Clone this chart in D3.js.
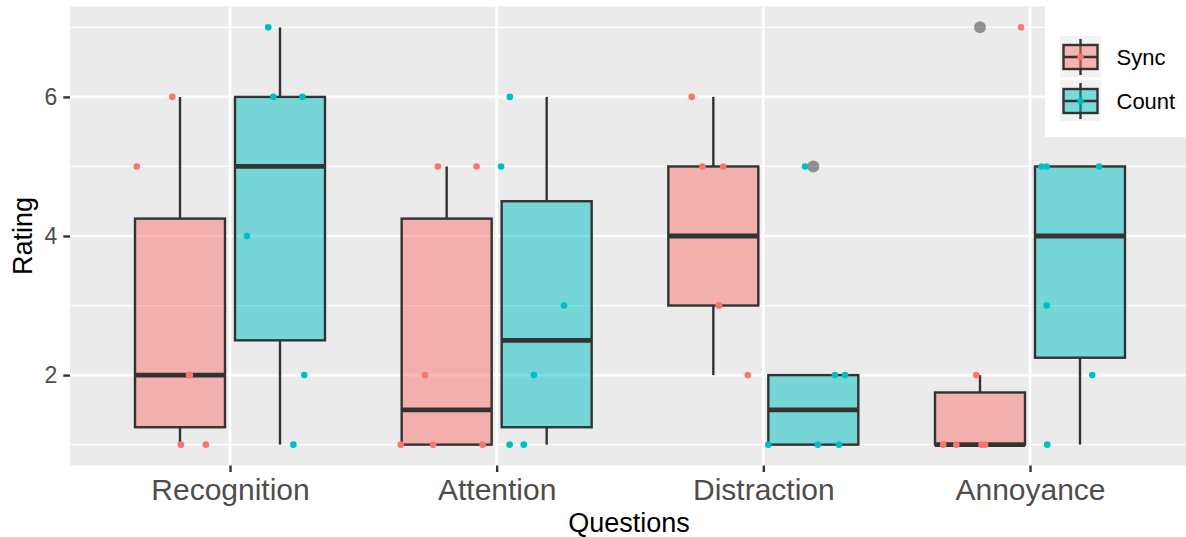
<!DOCTYPE html>
<html>
<head>
<meta charset="utf-8">
<script src="https://cdn.jsdelivr.net/npm/d3@7"></script>
<style>
  body { margin: 0; background: #fff; }
  text { font-family: "Liberation Sans", Arial, sans-serif; }
</style>
</head>
<body>
<div id="chart"></div>
<script>
// data
var questions = ["Recognition", "Attention", "Distraction", "Annoyance"];
var groups = ["Sync", "Count"];
var syncRatings = [[1,1,2,2,5,6], [1,1,1,2,5,5], [2,3,3,5,5,6], [1,1,1,1,2,7]];
var countRatings = [[1,2,4,6,6,7], [1,1,2,3,5,6], [1,1,1,2,2,5], [1,2,3,5,5,5]];
// horizontal jitter of each point, in category units from its box centre
var syncJitter = [[0.003,0.097,0.037,0.034,-0.162,-0.029], [-0.172,-0.051,0.135,-0.081,-0.033,0.112],
                  [0.129,0.021,0.021,-0.041,0.037,-0.081], [-0.138,-0.089,0.006,0.019,-0.014,0.154]];
var countJitter = [[0.05,0.091,-0.124,-0.025,0.084,-0.044], [-0.139,-0.086,-0.048,0.065,-0.171,-0.138],
                   [-0.169,0.017,0.096,0.081,0.119,-0.031], [-0.123,0.046,-0.125,-0.144,-0.125,0.072]];
var yTicks = [2, 4, 6];
var yMinor = [1, 3, 5, 7];

var colors = {Sync: "#F8766D", Count: "#00BFC4"};
var ratings = {Sync: syncRatings, Count: countRatings};
var jitters = {Sync: syncJitter, Count: countJitter};

var W = 1186, H = 537;
var panel = {left: 70, right: 1190, top: 6.5, bottom: 465.5};

var svg = d3.select("#chart").append("svg")
	.attr("width", W).attr("height", H);

var x = d3.scalePoint().domain(questions).range([panel.left, panel.right]).padding(0.6);
var step = x.step();
var y = d3.scaleLinear().domain([0.7, 7.3]).range([panel.bottom, panel.top]);

var dodge = {Sync: -0.1875, Count: 0.1875};
var boxW = 0.3375 * step;

// panel background + grid
svg.append("rect")
	.attr("x", panel.left).attr("y", panel.top)
	.attr("width", W - panel.left).attr("height", panel.bottom - panel.top)
	.attr("fill", "#EBEBEB");

svg.selectAll(".minor").data(yMinor).enter().append("line")
	.attr("x1", panel.left).attr("x2", W)
	.attr("y1", function(d){ return y(d) }).attr("y2", function(d){ return y(d) })
	.attr("stroke", "#fff").attr("stroke-width", 1.3);

svg.selectAll(".major").data(yTicks).enter().append("line")
	.attr("x1", panel.left).attr("x2", W)
	.attr("y1", function(d){ return y(d) }).attr("y2", function(d){ return y(d) })
	.attr("stroke", "#fff").attr("stroke-width", 2.6);

svg.selectAll(".vgrid").data(questions).enter().append("line")
	.attr("x1", function(d){ return x(d) }).attr("x2", function(d){ return x(d) })
	.attr("y1", panel.top).attr("y2", panel.bottom)
	.attr("stroke", "#fff").attr("stroke-width", 2.6);

// box stats
function stats(v) {
	var s = v.slice().sort(d3.ascending);
	var q1 = d3.quantile(s, 0.25), med = d3.quantile(s, 0.5), q3 = d3.quantile(s, 0.75);
	var iqr = q3 - q1;
	var inside = s.filter(function(d){ return d >= q1 - 1.5*iqr && d <= q3 + 1.5*iqr });
	return {q1: q1, med: med, q3: q3, lo: d3.min(inside), hi: d3.max(inside),
		out: s.filter(function(d){ return d < q1 - 1.5*iqr || d > q3 + 1.5*iqr })};
}

var boxes = [];
questions.forEach(function(q, i){
	groups.forEach(function(g){
		var st = stats(ratings[g][i]);
		st.cx = x(q) + dodge[g]*step;
		st.group = g;
		boxes.push(st);
	});
});

var bx = svg.selectAll(".box").data(boxes).enter().append("g");
bx.append("line")
	.attr("x1", function(d){ return d.cx }).attr("x2", function(d){ return d.cx })
	.attr("y1", function(d){ return y(d.hi) }).attr("y2", function(d){ return y(d.q3) })
	.attr("stroke", "#333").attr("stroke-width", 2.4);
bx.append("line")
	.attr("x1", function(d){ return d.cx }).attr("x2", function(d){ return d.cx })
	.attr("y1", function(d){ return y(d.q1) }).attr("y2", function(d){ return y(d.lo) })
	.attr("stroke", "#333").attr("stroke-width", 2.4);
bx.append("rect")
	.attr("x", function(d){ return d.cx - boxW/2 }).attr("width", boxW)
	.attr("y", function(d){ return y(d.q3) })
	.attr("height", function(d){ return y(d.q1) - y(d.q3) })
	.attr("fill", function(d){ return colors[d.group] }).attr("fill-opacity", 0.5)
	.attr("stroke", "#333").attr("stroke-width", 2.4);
bx.append("line")
	.attr("x1", function(d){ return d.cx - boxW/2 }).attr("x2", function(d){ return d.cx + boxW/2 })
	.attr("y1", function(d){ return y(d.med) }).attr("y2", function(d){ return y(d.med) })
	.attr("stroke", "#333").attr("stroke-width", 4.8);
bx.selectAll(".out").data(function(d){ return d.out.map(function(v){ return {v: v, cx: d.cx} }) })
	.enter().append("circle")
	.attr("cx", function(d){ return d.cx }).attr("cy", function(d){ return y(d.v) })
	.attr("r", 6).attr("fill", "#333").attr("fill-opacity", 0.5);

// jittered points
var pts = [];
questions.forEach(function(q, i){
	groups.forEach(function(g){
		ratings[g][i].forEach(function(v, k){
			pts.push({g: g, v: v, px: x(q) + (dodge[g] + jitters[g][i][k])*step});
		});
	});
});
svg.selectAll(".pt").data(pts).enter().append("circle")
	.attr("cx", function(d){ return d.px }).attr("cy", function(d){ return y(d.v) })
	.attr("r", 3.3).attr("fill", function(d){ return colors[d.g] });

// axes
var yAxis = svg.append("g").attr("transform", "translate(" + panel.left + ",0)")
	.call(d3.axisLeft(y).tickValues(yTicks).tickFormat(d3.format("d")).tickSize(6.7).tickPadding(6));
yAxis.select(".domain").remove();
yAxis.selectAll("line").attr("stroke", "#333").attr("stroke-width", 2.4);
yAxis.selectAll("text").attr("font-size", 23).attr("fill", "#4D4D4D")
	.style("font-family", "'Liberation Sans', Arial, sans-serif");

var xAxis = svg.append("g").attr("transform", "translate(0," + panel.bottom + ")")
	.call(d3.axisBottom(x).tickSize(6.5).tickPadding(6.5));
xAxis.select(".domain").remove();
xAxis.selectAll("line").attr("stroke", "#333").attr("stroke-width", 2.4);
xAxis.selectAll("text").attr("font-size", 30).attr("fill", "#4D4D4D")
	.style("font-family", "'Liberation Sans', Arial, sans-serif");

svg.append("text").attr("x", (panel.left + panel.right)/2 - 1).attr("y", 531.5)
	.attr("text-anchor", "middle").attr("font-size", 27).attr("fill", "#000").text("Questions");
svg.append("text").attr("transform", "translate(32," + (panel.top + panel.bottom)/2 + ") rotate(-90)")
	.attr("text-anchor", "middle").attr("font-size", 27).attr("fill", "#000").text("Rating");

// legend
var lg = svg.append("g");
lg.append("rect").attr("x", 1045).attr("y", 0).attr("width", 150).attr("height", 137).attr("fill", "#fff");
groups.forEach(function(g, i){
	var top = 36 + i*44, cxk = 1080.5, cy = top + 21;
	lg.append("rect").attr("x", 1060).attr("y", top).attr("width", 41).attr("height", 41).attr("fill", "#F2F2F2");
	lg.append("line").attr("x1", cxk).attr("x2", cxk).attr("y1", top + 3).attr("y2", top + 39)
		.attr("stroke", "#333").attr("stroke-width", 2.4);
	lg.append("rect").attr("x", 1063.5).attr("y", top + 9).attr("width", 34).attr("height", 24)
		.attr("fill", colors[g]).attr("fill-opacity", 0.5).attr("stroke", "#333").attr("stroke-width", 2.4);
	lg.append("line").attr("x1", 1063.5).attr("x2", 1097.5).attr("y1", cy).attr("y2", cy)
		.attr("stroke", "#333").attr("stroke-width", 2.4);
	lg.append("circle").attr("cx", cxk).attr("cy", cy).attr("r", 3.3).attr("fill", colors[g]);
	lg.append("text").attr("x", 1116.5).attr("y", cy).attr("dy", "0.35em")
		.attr("font-size", 22).attr("fill", "#000").text(g);
});
</script>
</body>
</html>
